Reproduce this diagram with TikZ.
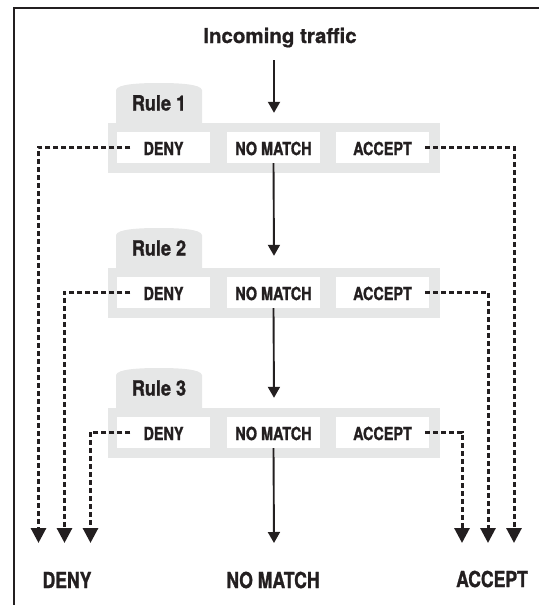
\documentclass[tikz,border=0pt]{standalone}
\usepackage{fontspec}
\setmainfont{TeX Gyre Heros}[BoldFeatures={FakeBold=0.8}]
\newfontfamily\condfont{TeX Gyre Heros}[FakeStretch=0.8, BoldFeatures={FakeBold=1.2}]
\newfontfamily\rulefont{TeX Gyre Heros}[FakeStretch=0.86, BoldFeatures={FakeBold=1.2}]
\usetikzlibrary{arrows.meta}
\definecolor{ink}{HTML}{231F20}
\definecolor{panelgray}{HTML}{E6E7E7}
\tikzset{
  panel/.style={fill=panelgray, draw=none, minimum width=332pt, minimum height=50pt, inner sep=0pt},
  wbox/.style={fill=white, draw=none, minimum width=93pt, minimum height=31pt, inner sep=0pt},
  lbl/.style={font=\condfont\bfseries\fontsize{18}{20}\selectfont, text=ink, inner xsep=13pt, inner ysep=0pt},
  rulelbl/.style={font=\rulefont\bfseries\fontsize{21}{23}\selectfont, text=ink, inner sep=0pt},
  biglbl/.style={font=\condfont\bfseries\fontsize{22}{24}\selectfont, text=ink, inner sep=0pt},
  flow/.style={draw=ink, line width=1.9pt, -{Triangle[width=12pt,length=11pt]}},
  rej/.style={draw=ink, line width=3pt, dash pattern=on 5pt off 3pt, -{Triangle[width=15pt,length=15pt]}},
}
\begin{document}
\begin{tikzpicture}[x=1pt,y=-1pt]
\useasboundingbox (0,0) rectangle (539,605);
% frame
\draw[ink, line width=2pt] (14,605) -- (14,7.5) -- (539,7.5);

% title
\node[font=\bfseries\fontsize{20.5}{22}\selectfont, text=ink, anchor=base, inner sep=0pt] (in) at (280,43) {Incoming traffic};

% rules
\foreach \i/\T in {1/123, 2/268, 3/408}{
  \fill[panelgray] (116,\T) -- (116,\T-33) .. controls (117,\T-39) and (140,\T-40) .. (159,\T-40)
        .. controls (178,\T-40) and (201,\T-39) .. (202,\T-33) -- (202,\T) -- cycle;
  \node[rulelbl] (r\i) at (159,\T-20) {Rule \i};
  \node[panel] (p\i) at (274,\T+25) {};
  \node[wbox] (bd\i) at (163.5,\T+24.5) {};
  \node[wbox] (bn\i) at (273.5,\T+24.5) {};
  \node[wbox] (ba\i) at (382.5,\T+24.5) {};
  \node[lbl] (d\i) at ([yshift=-1pt]bd\i.center) {DENY};
  \node[lbl] (n\i) at ([yshift=-1pt]bn\i.center) {NO MATCH};
  \node[lbl] (a\i) at ([yshift=-1pt]ba\i.center) {ACCEPT};
}

% bottom labels
\node[biglbl] (deny) at (67,580) {DENY};
\node[biglbl] (nomatch) at (273,580) {NO MATCH};
\node[biglbl] (accept) at (492,579) {ACCEPT};

% endpoints
\coordinate (ed1) at (38.5,543);
\coordinate (ed2) at (64.5,543);
\coordinate (ed3) at (90.5,543);
\coordinate (ea1) at (514,543);
\coordinate (ea2) at (488,543);
\coordinate (ea3) at (462,543);
\coordinate (eout) at (274,543);

% flow arrows
\draw[flow] (274,60) -- ([yshift=10pt]p1.north);
\draw[flow] (bn1.south) -- ([yshift=12pt]p2.north);
\draw[flow] (bn2.south) -- ([yshift=10pt]p3.north);
\draw[flow] (bn3.south) -- (eout);

% reject / accept paths
\foreach \i in {1,2,3}{
  \draw[rej] ([yshift=1.5pt]d\i.west) -| (ed\i);
  \draw[rej] ([yshift=1.5pt]a\i.east) -| (ea\i);
}
\end{tikzpicture}
\end{document}
